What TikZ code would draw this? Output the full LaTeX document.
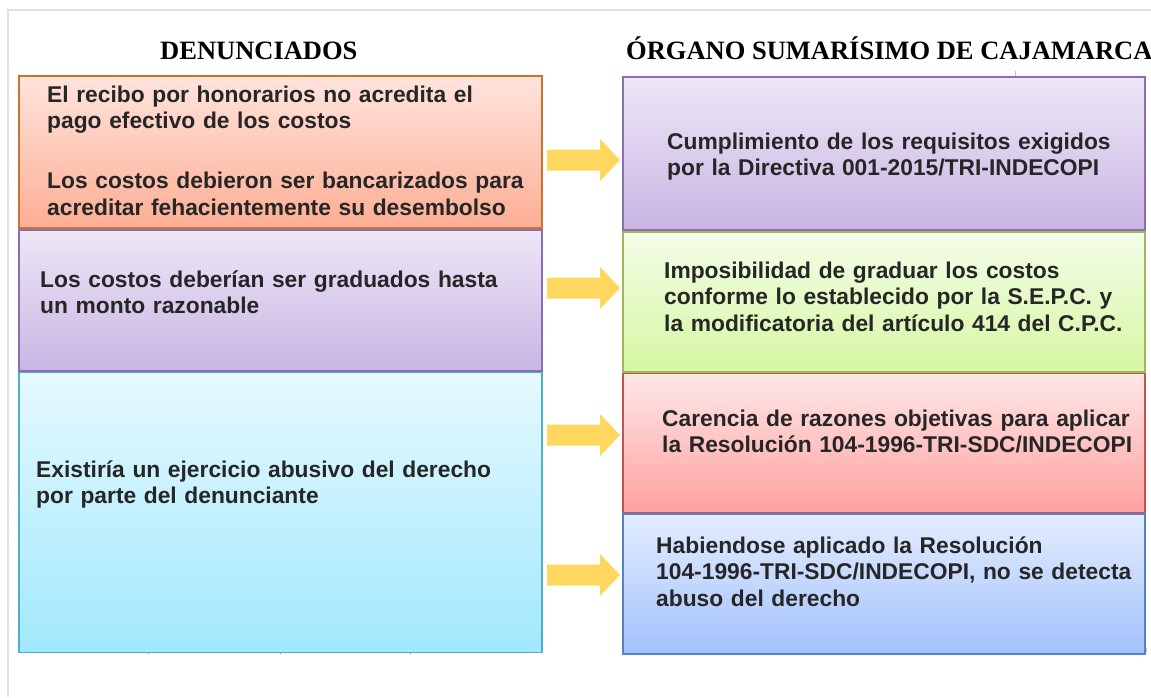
\documentclass[tikz,border=0pt]{standalone}
\usepackage{fontspec}
\setmainfont{Liberation Sans}
\newfontfamily\titlefont{Liberation Serif}
\usetikzlibrary{positioning}

\definecolor{txtdark}{HTML}{262626}
\definecolor{framegray}{HTML}{E2E2E2}
\definecolor{arrowyellow}{HTML}{FFD75E}
\definecolor{salmontop}{HTML}{FFE4DC}
\definecolor{salmonbot}{HTML}{FDAE94}
\definecolor{salmonline}{HTML}{C8732F}
\definecolor{lilactop}{HTML}{EEE7F7}
\definecolor{lilacbot}{HTML}{C9B5E3}
\definecolor{lilacline}{HTML}{8C6CB3}
\definecolor{aquatop}{HTML}{E6F9FF}
\definecolor{aquabot}{HTML}{A1E8FD}
\definecolor{aqualine}{HTML}{4FAFC8}
\definecolor{limetop}{HTML}{F4FDE9}
\definecolor{limebot}{HTML}{D6F7A2}
\definecolor{limeline}{HTML}{9BBB59}
\definecolor{rosetop}{HTML}{FFE7E7}
\definecolor{rosebot}{HTML}{FFA1A0}
\definecolor{roseline}{HTML}{C9504F}
\definecolor{skytop}{HTML}{E4EDFF}
\definecolor{skybot}{HTML}{A2C1FC}
\definecolor{skyline}{HTML}{5584C4}

\begin{document}
\begin{tikzpicture}[x=1pt,y=-1pt,
	box/.style={line width=1.8pt,inner sep=0pt,anchor=north west,shading=axis},
	boxtext/.style={anchor=base west,inner sep=0pt,text width=520pt,align=left,text=txtdark,
		font=\bfseries\fontsize{22.8}{26.5}\selectfont},
	heading/.style={anchor=base west,inner sep=0pt,font=\titlefont\bfseries\fontsize{26.5}{30}\selectfont},
	arrowfill/.style={fill=arrowyellow}]
	\useasboundingbox (0,0) rectangle (1151,697);
	% frame of the page
	\draw[framegray,line width=2pt] (7.5,697) -- (7.5,10) -- (1151,10);
	% headings
	\node[heading] (hden) at (160,59) {DENUNCIADOS};
	\node[heading] (horg) at (626,59) {ÓRGANO SUMARÍSIMO DE CAJAMARCA};
	% shadows under the columns
	\fill[black!22] (19,648) rectangle (543,652);
	\fill[black!22] (623,648) rectangle (1147,652);
	\foreach \x in {148,280,410,753,885,1015} \draw[black!45,line width=0.8pt] (\x,648) -- (\x,654);
	\draw[black!25,line width=0.8pt] (1015,71) -- (1015,76);
	% left column
	\node[box,draw=salmonline,top color=salmontop,bottom color=salmonbot,minimum width=523pt,minimum height=152pt] (l1) at (18,75) {};
	\node[box,draw=lilacline,top color=lilactop,bottom color=lilacbot,minimum width=523pt,minimum height=141pt] (l2) at (l1.south west) {};
	\node[box,draw=aqualine,top color=aquatop,bottom color=aquabot,minimum width=523pt,minimum height=280pt] (l3) at (l2.south west) {};
	% right column
	\node[box,draw=lilacline,top color=lilactop,bottom color=lilacbot,minimum width=522pt,minimum height=153pt] (r1) at (622,76) {};
	\node[box,draw=limeline,top color=limetop,bottom color=limebot,minimum width=522pt,minimum height=140pt] (r2) at (r1.south west) {};
	\node[box,draw=roseline,top color=rosetop,bottom color=rosebot,minimum width=522pt,minimum height=139pt] (r3) at (r2.south west) {};
	\node[box,draw=skyline,top color=skytop,bottom color=skybot,minimum width=522pt,minimum height=140pt] (r4) at (r3.south west) {};
	% texts
	\node[boxtext] (l1t) at (47,102) {El recibo por honorarios no acredita el\\pago efectivo de los costos\\[33.5pt]Los costos debieron ser bancarizados para\\acreditar fehacientemente su desembolso};
	\node[boxtext] (l2t) at (40,287) {Los costos deberían ser graduados hasta\\un monto razonable};
	\node[boxtext] (l3t) at (36,477) {Existiría un ejercicio abusivo del derecho\\por parte del denunciante};
	\node[boxtext] (r1t) at (667,149) {Cumplimiento de los requisitos exigidos\\por la Directiva 001-2015/TRI-INDECOPI};
	\node[boxtext] (r2t) at (664,278) {Imposibilidad de graduar los costos\\conforme lo establecido por la S.E.P.C. y\\la modificatoria del artículo 414 del C.P.C.};
	\node[boxtext] (r3t) at (662,426) {Carencia de razones objetivas para aplicar\\la Resolución 104-1996-TRI-SDC/INDECOPI};
	\node[boxtext] (r4t) at (656,553) {Habiendose aplicado la Resolución\\104-1996-TRI-SDC/INDECOPI, no se detecta\\abuso del derecho};
	% block arrows between the columns
	\foreach \y in {160,288,435,575}
		\fill[arrowfill] (547,\y-10.5) -- (600,\y-10.5) -- (600,\y-21) -- (620,\y)
			-- (600,\y+21) -- (600,\y+10.5) -- (547,\y+10.5) -- cycle;
\end{tikzpicture}
\end{document}
